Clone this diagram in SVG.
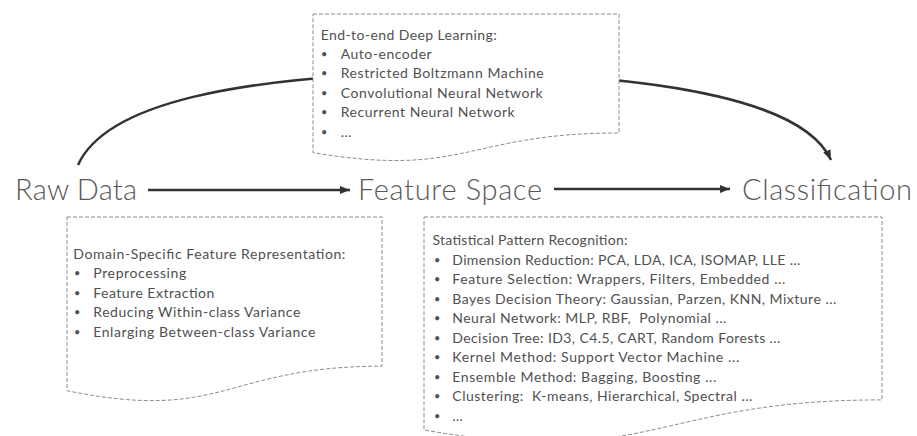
<svg xmlns="http://www.w3.org/2000/svg" width="917" height="436" viewBox="0 0 917 436">
<style>
.doc{fill:#fff;stroke:#8c8c8c;stroke-width:1;stroke-dasharray:4 2}
.t{font-family:Lato,"Open Sans","Liberation Sans",sans-serif;font-size:14px;fill:#505050}
.b{font-family:Lato,"Open Sans","Liberation Sans",sans-serif;font-size:11px;fill:#505050}
.big{font-family:Lato,"Open Sans","Liberation Sans",sans-serif;font-size:29px;font-weight:300;fill:#595959}
.conn{fill:none;stroke:#333;stroke-width:2.5}
</style>
<defs>
<marker id="ah" markerUnits="userSpaceOnUse" markerWidth="12" markerHeight="10" refX="10" refY="4" orient="auto">
<path d="M0,0 L10,4 L0,8 Z" fill="#333"/>
</marker>
</defs>
<g id="connectors">
<path class="conn" d="M78,165 C105,105 230,75 455,72 C680,75 806,105 831,160" marker-end="url(#ah)"/>
<line class="conn" x1="148" y1="190" x2="350" y2="190" marker-end="url(#ah)"/>
<line class="conn" x1="554" y1="189" x2="730" y2="189" marker-end="url(#ah)"/>
</g>
<g id="raw-data"><text class="big" x="15" y="200" textLength="122">Raw Data</text></g>
<g id="feature-space"><text class="big" x="358" y="200" textLength="184">Feature Space</text></g>
<g id="classification"><text class="big" x="742" y="200" textLength="170">Classification</text></g>
<g id="deep-learning">
<path class="doc" d="M313,14 H619 V133 C466,133 466,178.4 313,152.6 Z"/>
<text class="t" x="320.7" y="39.5" textLength="176">End-to-end Deep Learning:</text>
<text class="b" x="321" y="57.5">•</text><text class="t" x="340.7" y="58.5" textLength="91">Auto-encoder</text>
<text class="b" x="321" y="77">•</text><text class="t" x="340.7" y="78" textLength="203">Restricted Boltzmann Machine</text>
<text class="b" x="321" y="96.5">•</text><text class="t" x="340.7" y="97.5" textLength="202">Convolutional Neural Network</text>
<text class="b" x="321" y="116">•</text><text class="t" x="340.7" y="117" textLength="174">Recurrent Neural Network</text>
<text class="b" x="321" y="135.5">•</text><text class="t" x="340.7" y="136.5">…</text>
</g>
<g id="domain-specific">
<path class="doc" d="M67,217 H382 V366.2 C224.5,366.2 224.5,423 67,390.7 Z"/>
<text class="t" x="73.3" y="258.5" textLength="272">Domain-Specific Feature Representation:</text>
<text class="b" x="74" y="277">•</text><text class="t" x="93.3" y="278" textLength="93">Preprocessing</text>
<text class="b" x="74" y="296.5">•</text><text class="t" x="93.3" y="297.5" textLength="121">Feature Extraction</text>
<text class="b" x="74" y="316">•</text><text class="t" x="93.3" y="317" textLength="207">Reducing Within-class Variance</text>
<text class="b" x="74" y="335.5">•</text><text class="t" x="93.3" y="336.5" textLength="222">Enlarging Between-class Variance</text>
</g>
<g id="statistical">
<path class="doc" d="M424,217 H882 V399.9 C653,399.9 653,469.5 424,430 Z"/>
<text class="t" x="432.5" y="244.5" textLength="195">Statistical Pattern Recognition:</text>
<text class="b" x="434" y="263.5">•</text><text class="t" x="452.3" y="264.5" textLength="348">Dimension Reduction: PCA, LDA, ICA, ISOMAP, LLE ...</text>
<text class="b" x="434" y="283">•</text><text class="t" x="452.3" y="284" textLength="333">Feature Selection: Wrappers, Filters, Embedded ...</text>
<text class="b" x="434" y="302.5">•</text><text class="t" x="452.3" y="303.5" textLength="384">Bayes Decision Theory: Gaussian, Parzen, KNN, Mixture ...</text>
<text class="b" x="434" y="322">•</text><text class="t" x="452.3" y="323" textLength="274" xml:space="preserve">Neural Network: MLP, RBF,  Polynomial ...</text>
<text class="b" x="434" y="341.5">•</text><text class="t" x="452.3" y="342.5" textLength="328">Decision Tree: ID3, C4.5, CART, Random Forests ...</text>
<text class="b" x="434" y="361">•</text><text class="t" x="452.3" y="362" textLength="287">Kernel Method: Support Vector Machine ...</text>
<text class="b" x="434" y="380.5">•</text><text class="t" x="452.3" y="381.5" textLength="264">Ensemble Method: Bagging, Boosting ...</text>
<text class="b" x="434" y="400">•</text><text class="t" x="452.3" y="401" textLength="300" xml:space="preserve">Clustering:  K-means, Hierarchical, Spectral ...</text>
<text class="b" x="434" y="419.5">•</text><text class="t" x="452.3" y="420.5">…</text>
</g>
</svg>
